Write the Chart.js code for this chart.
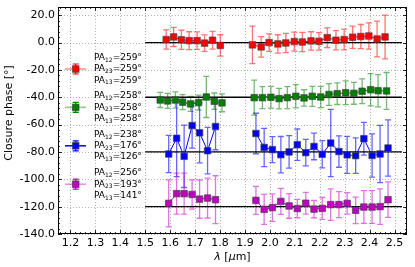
<!DOCTYPE html>
<html>
<head>
<meta charset="utf-8">
<script src="https://cdn.jsdelivr.net/npm/chart.js@4.4.1/dist/chart.umd.min.js"></script>
<style>
  html, body { margin: 0; padding: 0; background: #fff; }
</style>
</head>
<body>
<canvas id="cp" width="415" height="267"></canvas>
<script>
// wavelengths (micron), closure phases (deg) and errors, H and K bands
var lamRedH = [1.584, 1.614, 1.645, 1.676, 1.708, 1.738, 1.770, 1.801];
var cpRedH  = [2.2, 4.1, 2.0, 1.4, 1.4, -0.4, 1.7, -2.1];
var errRedH = [7.0, 7.0, 7.0, 6.5, 6.4, 6.0, 6.5, 7.8];
var lamRedK = [1.930, 1.965, 1.997, 2.032, 2.064, 2.098, 2.130, 2.165, 2.197, 2.230, 2.265, 2.298, 2.332, 2.365, 2.397, 2.430, 2.462];
var cpRedK  = [-1.7, -3.2, 0.0, -1.0, -0.3, 0.7, 0.4, 1.2, 0.9, 3.6, 1.7, 2.2, 3.9, 4.4, 4.8, 2.6, 4.1];
var errRedK = [13.7, 7.5, 6.4, 6.7, 7.0, 6.9, 7.0, 6.7, 6.4, 7.2, 7.0, 7.6, 8.1, 8.8, 9.6, 13.0, 16.0];

var lamGreenH = [1.560, 1.590, 1.621, 1.650, 1.682, 1.714, 1.745, 1.777, 1.808];
var cpGreenH  = [-42.0, -42.7, -42.0, -43.6, -44.9, -43.9, -39.8, -42.9, -44.1];
var errGreenH = [5.5, 5.5, 6.0, 5.5, 5.5, 5.5, 15.0, 6.0, 6.5];
var lamGreenK = [1.937, 1.970, 2.004, 2.037, 2.070, 2.104, 2.137, 2.170, 2.204, 2.237, 2.270, 2.304, 2.337, 2.370, 2.404, 2.434, 2.468];
var cpGreenK  = [-40.3, -40.3, -40.0, -41.0, -40.3, -39.3, -40.5, -39.3, -39.8, -38.0, -37.4, -36.7, -37.1, -35.6, -34.5, -35.2, -35.4];
var errGreenK = [12.8, 8.0, 8.0, 7.5, 8.0, 8.5, 6.0, 7.3, 7.8, 8.0, 7.9, 8.7, 8.0, 9.0, 11.8, 11.8, 13.5];

var lamBlueH = [1.594, 1.626, 1.656, 1.688, 1.718, 1.750, 1.782];
var cpBlueH  = [-81.5, -70.0, -83.2, -60.7, -66.0, -79.1, -61.4];
var errBlueH = [13.6, 28.0, 22.8, 16.5, 22.0, 17.0, 17.0];
var lamBlueK = [1.944, 1.977, 2.010, 2.044, 2.077, 2.110, 2.144, 2.177, 2.210, 2.244, 2.277, 2.310, 2.344, 2.377, 2.410, 2.442, 2.474];
var cpBlueK  = [-66.5, -76.7, -78.3, -82.0, -80.0, -74.7, -80.5, -76.0, -81.7, -73.5, -79.7, -82.1, -82.7, -70.3, -82.6, -81.5, -77.1];
var errBlueK = [14.8, 14.0, 9.5, 13.3, 11.9, 11.5, 9.7, 9.7, 10.0, 24.6, 11.5, 13.5, 13.0, 12.0, 15.8, 21.0, 20.6];

var lamMagH = lamBlueH;
var cpMagH  = [-117.6, -110.5, -110.5, -111.1, -114.5, -113.7, -114.9];
var errMagH = [17.2, 15.0, 15.0, 10.7, 14.0, 14.6, 17.5];
var lamMagK = lamBlueK;
var cpMagK  = [-115.4, -122.0, -120.7, -116.2, -119.5, -121.4, -117.5, -121.8, -121.3, -118.5, -118.5, -117.6, -122.7, -120.3, -120.3, -120.0, -114.9];
var errMagK = [10.3, 11.0, 10.0, 9.5, 9.0, 6.7, 7.9, 6.3, 8.0, 11.5, 9.5, 7.9, 9.7, 12.0, 12.0, 13.0, 13.0];

// position angles for legend (PA12, PA23, PA13)
var baselines = ['12', '23', '13'];
var paRed = [259, 259, 259];
var paGreen = [258, 258, 258];
var paBlue = [238, 176, 126];
var paMag = [256, 193, 141];

// reference levels (black lines)
var refLevels = [0, -40, -80, -120];
var refRange = [1.5, 2.53];

var xTicks = [1.2, 1.3, 1.4, 1.5, 1.6, 1.7, 1.8, 1.9, 2.0, 2.1, 2.2, 2.3, 2.4, 2.5];
var yTicks = [20, 0, -20, -40, -60, -80, -100, -120, -140];

function pts(lh, ch, lk, ck) {
  var out = [];
  for (var i = 0; i < lh.length; i++) out.push({x: lh[i], y: ch[i]});
  out.push({x: 1.86, y: null});
  for (var j = 0; j < lk.length; j++) out.push({x: lk[j], y: ck[j]});
  return out;
}

var series = [
  {c: '#ff0000', bar: 'rgba(255,0,0,0.55)', leg: 'rgba(255,0,0,0.45)', d: pts(lamRedH, cpRedH, lamRedK, cpRedK), e: errRedH.concat([null], errRedK), pa: paRed},
  {c: '#007f00', bar: 'rgba(0,128,0,0.55)', leg: 'rgba(0,128,0,0.45)', d: pts(lamGreenH, cpGreenH, lamGreenK, cpGreenK), e: errGreenH.concat([null], errGreenK), pa: paGreen},
  {c: '#0000ff', bar: 'rgba(0,0,255,0.6)', leg: 'rgba(0,0,255,1)', d: pts(lamBlueH, cpBlueH, lamBlueK, cpBlueK), e: errBlueH.concat([null], errBlueK), pa: paBlue},
  {c: '#bf00bf', bar: 'rgba(200,0,200,0.55)', leg: 'rgba(210,60,210,0.6)', d: pts(lamMagH, cpMagH, lamMagK, cpMagK), e: errMagH.concat([null], errMagK), pa: paMag}
];

var datasets = [];
series.forEach(function (s) {
  datasets.push({
    data: s.d, showLine: true, spanGaps: false,
    borderColor: s.c, borderWidth: 1,
    pointStyle: 'rect', pointRadius: 4.6,
    pointBackgroundColor: s.c, pointBorderColor: 'rgba(70,70,70,0.7)', pointBorderWidth: 1,
    errs: s.e, barColor: s.bar, order: 1
  });
});
refLevels.forEach(function (v) {
  datasets.push({
    data: [{x: refRange[0], y: v}, {x: refRange[1], y: v}],
    showLine: true, borderColor: '#000', borderWidth: 1.3, pointRadius: 0, order: 5
  });
});

var FONT = 'DejaVu Sans';

var decor = {
  id: 'decor',
  beforeDatasetsDraw: function (chart) {
    var ctx = chart.ctx, a = chart.chartArea, xs = chart.scales.x, ys = chart.scales.y;
    ctx.save();
    // dotted grid
    ctx.strokeStyle = 'rgba(0,0,0,0.3)';
    ctx.lineWidth = 1;
    ctx.setLineDash([1, 2]);
    xTicks.forEach(function (v) {
      var p = Math.round(xs.getPixelForValue(v)) + 0.5;
      ctx.beginPath(); ctx.moveTo(p, a.top); ctx.lineTo(p, a.bottom); ctx.stroke();
    });
    yTicks.forEach(function (v) {
      var p = Math.round(ys.getPixelForValue(v)) + 0.5;
      ctx.beginPath(); ctx.moveTo(a.left, p); ctx.lineTo(a.right, p); ctx.stroke();
    });
    ctx.setLineDash([]);
    // error bars
    ctx.beginPath(); ctx.rect(a.left, a.top, a.right - a.left, a.bottom - a.top); ctx.clip();
    chart.data.datasets.forEach(function (ds) {
      if (!ds.errs) return;
      ctx.strokeStyle = ds.barColor;
      ctx.lineWidth = 1.3;
      ds.data.forEach(function (p, i) {
        if (p.y === null || ds.errs[i] === null) return;
        var px = xs.getPixelForValue(p.x);
        var y1 = ys.getPixelForValue(p.y + ds.errs[i]);
        var y2 = ys.getPixelForValue(p.y - ds.errs[i]);
        ctx.beginPath();
        ctx.moveTo(px, y1); ctx.lineTo(px, y2);
        ctx.moveTo(px - 3, y1); ctx.lineTo(px + 3, y1);
        ctx.moveTo(px - 3, y2); ctx.lineTo(px + 3, y2);
        ctx.stroke();
      });
    });
    ctx.restore();
  },
  afterDraw: function (chart) {
    var ctx = chart.ctx, a = chart.chartArea, xs = chart.scales.x, ys = chart.scales.y;
    ctx.save();
    // frame
    ctx.strokeStyle = '#000';
    ctx.lineWidth = 1;
    ctx.strokeRect(a.left + 0.5, a.top + 0.5, a.right - a.left - 1, a.bottom - a.top - 1);
    // inward ticks on all sides
    function xt(v, len) {
      var p = Math.round(xs.getPixelForValue(v)) + 0.5;
      ctx.beginPath();
      ctx.moveTo(p, a.bottom); ctx.lineTo(p, a.bottom - len);
      ctx.moveTo(p, a.top); ctx.lineTo(p, a.top + len);
      ctx.stroke();
    }
    function yt(v, len) {
      var p = Math.round(ys.getPixelForValue(v)) + 0.5;
      ctx.beginPath();
      ctx.moveTo(a.left, p); ctx.lineTo(a.left + len, p);
      ctx.moveTo(a.right, p); ctx.lineTo(a.right - len, p);
      ctx.stroke();
    }
    ctx.lineWidth = 0.8;
    for (var k = 0; k <= 70; k++) { var xv = 1.16 + k * 0.02; if (xv < 2.55) xt(xv, 2); }
    for (var m = 0; m <= 41; m++) { var yv = -140 + m * 4; if (yv < 26) yt(yv, 2); }
    xTicks.forEach(function (v) { xt(v, 4); });
    yTicks.forEach(function (v) { yt(v, 4); });

    // legend
    series.forEach(function (s, i) {
      var cy = 69 + i * 38.4, cx = 75.7;
      ctx.strokeStyle = s.leg; ctx.lineWidth = 1.5;
      ctx.beginPath(); ctx.moveTo(65, cy); ctx.lineTo(86, cy); ctx.stroke();
      ctx.strokeStyle = s.c; ctx.lineWidth = 1.2;
      ctx.beginPath();
      ctx.moveTo(cx, cy - 5); ctx.lineTo(cx, cy + 5);
      ctx.moveTo(cx - 3, cy - 5); ctx.lineTo(cx + 3, cy - 5);
      ctx.moveTo(cx - 3, cy + 5); ctx.lineTo(cx + 3, cy + 5);
      ctx.stroke();
      ctx.fillStyle = s.c; ctx.fillRect(cx - 3.3, cy - 3.3, 6.6, 6.6);
      ctx.strokeStyle = 'rgba(70,70,70,0.7)'; ctx.lineWidth = 1;
      ctx.strokeRect(cx - 3.3, cy - 3.3, 6.6, 6.6);
      ctx.fillStyle = '#000';
      ctx.textBaseline = 'middle'; ctx.textAlign = 'left';
      for (var r = 0; r < 3; r++) {
        var ty = cy + (r - 1) * 11.3, tx = 94;
        ctx.font = '9px "' + FONT + '"';
        ctx.fillText('PA', tx, ty); tx += ctx.measureText('PA').width;
        ctx.font = '6px "' + FONT + '"';
        ctx.fillText(baselines[r], tx, ty + 2.5); tx += ctx.measureText(baselines[r]).width;
        ctx.font = '9px "' + FONT + '"';
        ctx.fillText('=' + s.pa[r] + '\u00b0', tx, ty);
      }
    });

    // axis titles
    ctx.fillStyle = '#000';
    ctx.font = '11px "' + FONT + '"';
    ctx.textAlign = 'center'; ctx.textBaseline = 'middle';
    ctx.save();
    ctx.translate(9, 113);
    ctx.rotate(-Math.PI / 2);
    ctx.fillText('Closure phase [\u00b0]', 0, 0);
    ctx.restore();
    var parts = [['\u03bb', true], [' [', false], ['\u03bc', true], ['m]', false]];
    var w = 0;
    parts.forEach(function (p) { ctx.font = (p[1] ? 'italic ' : '') + '11px "' + FONT + '"'; w += ctx.measureText(p[0]).width; });
    var x0 = (a.left + a.right) / 2 - w / 2;
    ctx.textAlign = 'left';
    parts.forEach(function (p) {
      ctx.font = (p[1] ? 'italic ' : '') + '11px "' + FONT + '"';
      ctx.fillText(p[0], x0, 257); x0 += ctx.measureText(p[0]).width;
    });
    ctx.restore();
  }
};

new Chart(document.getElementById('cp').getContext('2d'), {
  type: 'scatter',
  data: {datasets: datasets},
  options: {
    responsive: false,
    animation: false,
    devicePixelRatio: 1,
    events: [],
    layout: {padding: {left: 0, top: 7, right: 8, bottom: 0}},
    plugins: {legend: {display: false}, tooltip: {enabled: false}},
    scales: {
      x: {
        type: 'linear', min: 1.15, max: 2.55,
        grid: {display: false, drawTicks: false}, border: {display: false},
        afterBuildTicks: function (sc) { sc.ticks = xTicks.map(function (v) { return {value: v}; }); },
        afterFit: function (sc) { sc.height = 33; sc.paddingLeft = 0; sc.paddingRight = 0; },
        ticks: {autoSkip: false, maxRotation: 0, padding: 3, color: '#000',
          font: {family: FONT, size: 11},
          callback: function (v) { return Number(v).toFixed(1); }}
      },
      y: {
        type: 'linear', min: -140, max: 26,
        grid: {display: false, drawTicks: false}, border: {display: false},
        afterBuildTicks: function (sc) { sc.ticks = yTicks.map(function (v) { return {value: v}; }); },
        afterFit: function (sc) { sc.width = 58; sc.paddingTop = 0; sc.paddingBottom = 0; },
        ticks: {autoSkip: false, padding: 3, color: '#000',
          font: {family: FONT, size: 11},
          callback: function (v) { return Number(v).toFixed(1); }}
      }
    }
  },
  plugins: [decor]
});
</script>
</body>
</html>
